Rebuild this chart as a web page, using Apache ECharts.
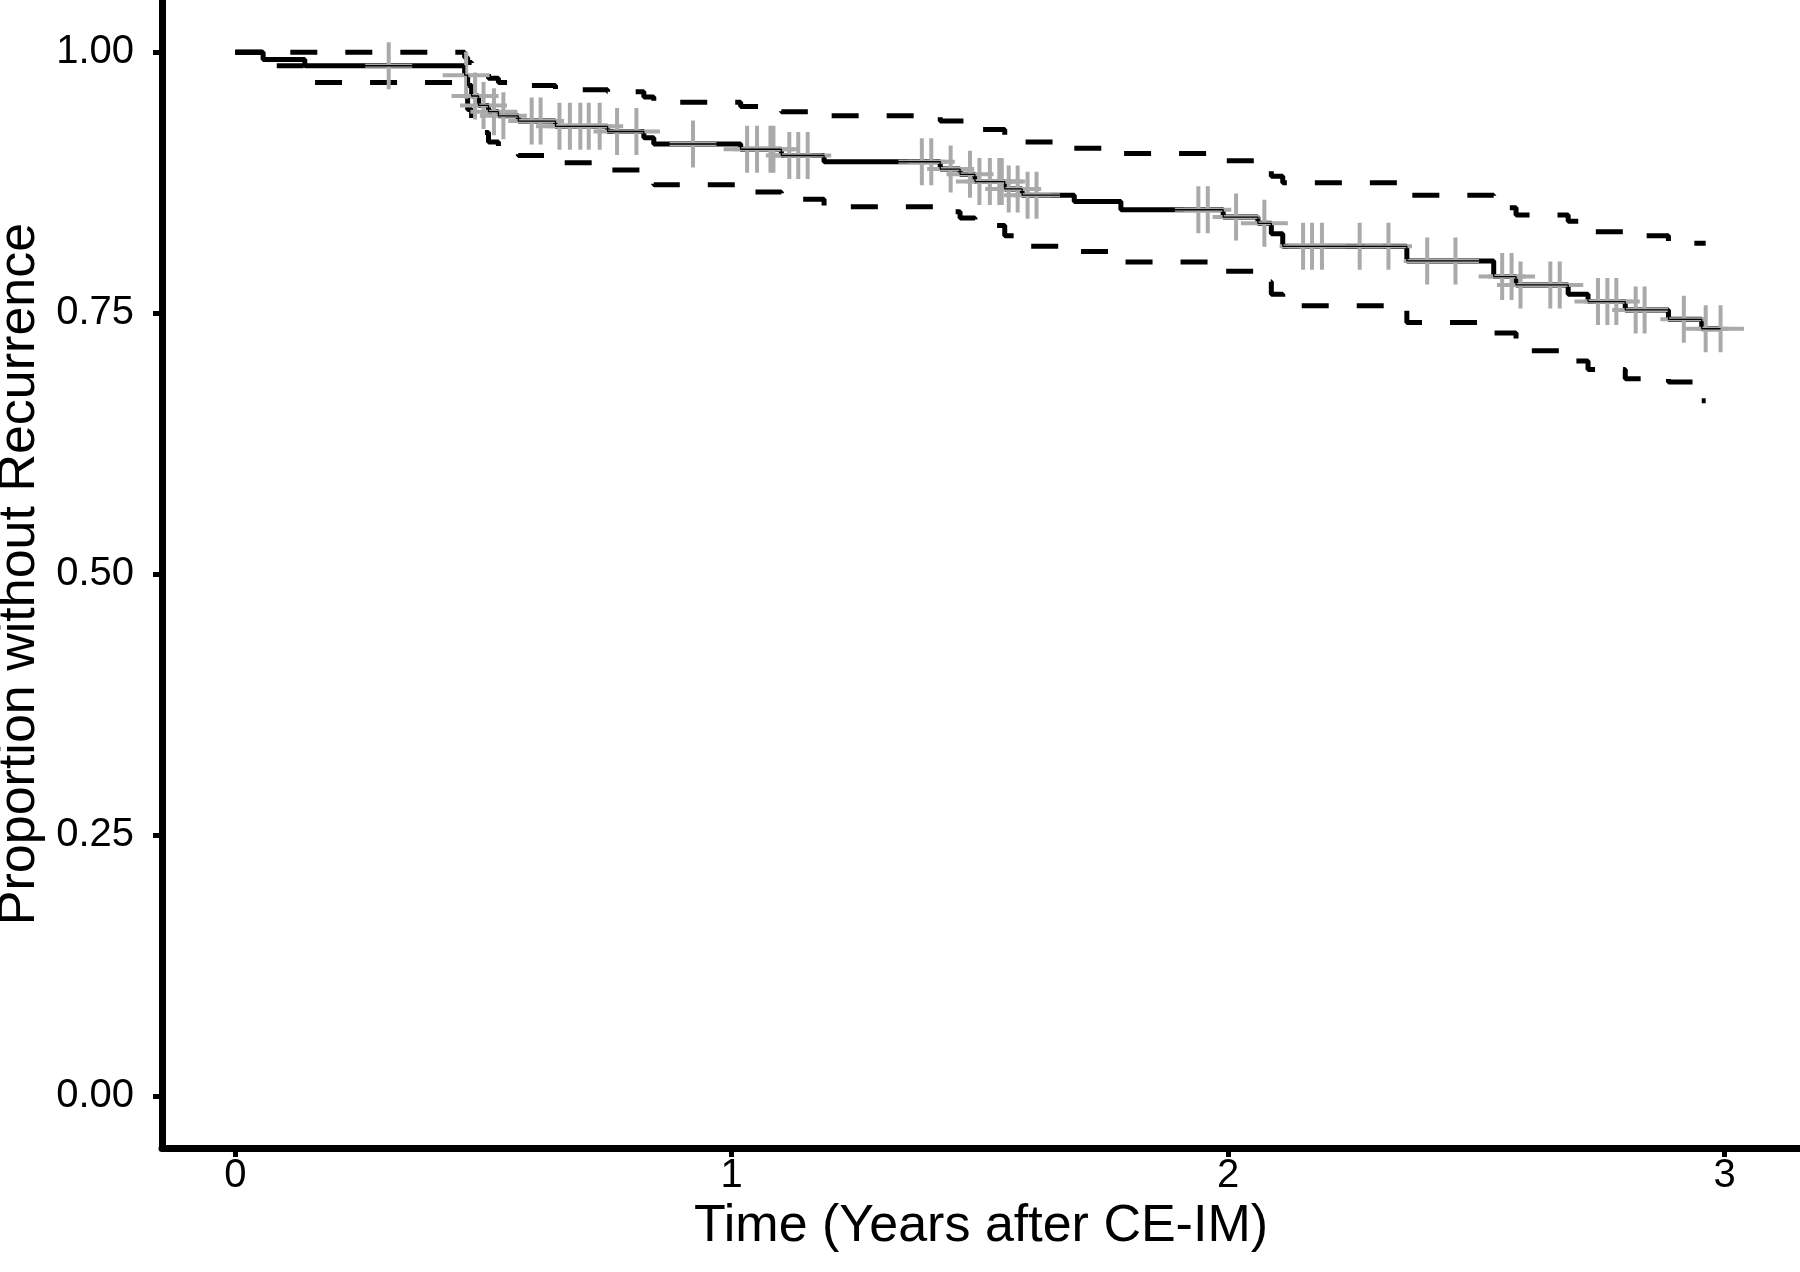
<!DOCTYPE html>
<html>
<head>
<meta charset="utf-8">
<script src="https://cdn.jsdelivr.net/npm/echarts@6/dist/echarts.min.js"></script>
<style>html,body{margin:0;padding:0;background:#fff}#c{width:1800px;height:1272px}</style>
</head>
<body>
<div id="c"></div>
<script>
// Kaplan-Meier estimate (value holds from each time onward)
const kmTime = [0, 0.056, 0.14, 0.462, 0.468, 0.476, 0.49, 0.51, 0.53, 0.57, 0.645, 0.75, 0.823, 0.843, 1.018, 1.10, 1.186, 1.42, 1.46, 1.49, 1.55, 1.585, 1.69, 1.784, 1.99, 2.06, 2.087, 2.11, 2.36, 2.535, 2.58, 2.685, 2.725, 2.80, 2.887, 2.954, 2.992];
const kmSurv = [1.000, 0.993, 0.987, 0.978, 0.968, 0.958, 0.949, 0.943, 0.939, 0.934, 0.929, 0.924, 0.918, 0.912, 0.907, 0.901, 0.895, 0.888, 0.883, 0.876, 0.869, 0.863, 0.857, 0.849, 0.842, 0.836, 0.826, 0.814, 0.800, 0.785, 0.777, 0.768, 0.761, 0.753, 0.744, 0.735, 0.735];

// Upper confidence limit
const upperTime = [0, 0.462, 0.468, 0.476, 0.49, 0.51, 0.53, 0.57, 0.645, 0.75, 0.823, 0.843, 1.018, 1.10, 1.186, 1.42, 1.49, 1.55, 1.585, 1.69, 1.784, 1.99, 2.06, 2.087, 2.11, 2.36, 2.535, 2.58, 2.685, 2.725, 2.80, 2.887, 2.962];
const upperSurv = [1.000, 0.995, 0.990, 0.985, 0.980, 0.975, 0.971, 0.968, 0.964, 0.962, 0.957, 0.952, 0.948, 0.943, 0.939, 0.934, 0.926, 0.920, 0.914, 0.908, 0.903, 0.896, 0.889, 0.881, 0.875, 0.863, 0.851, 0.844, 0.838, 0.828, 0.824, 0.817, 0.817];

// Lower confidence limit
const lowerTime = [0, 0.056, 0.14, 0.462, 0.468, 0.476, 0.49, 0.51, 0.53, 0.57, 0.645, 0.75, 0.823, 0.843, 1.018, 1.10, 1.186, 1.42, 1.46, 1.49, 1.55, 1.585, 1.69, 1.784, 1.99, 2.06, 2.087, 2.11, 2.36, 2.535, 2.58, 2.685, 2.725, 2.80, 2.887, 2.954, 2.962];
const lowerSurv = [1.000, 0.987, 0.971, 0.958, 0.945, 0.935, 0.923, 0.914, 0.906, 0.901, 0.894, 0.887, 0.880, 0.873, 0.866, 0.859, 0.852, 0.847, 0.841, 0.834, 0.824, 0.814, 0.809, 0.799, 0.790, 0.780, 0.768, 0.757, 0.741, 0.731, 0.714, 0.704, 0.696, 0.687, 0.684, 0.666, 0.666];

// Censoring times
const censorTime = [0.309, 0.465, 0.483, 0.500, 0.521, 0.540, 0.597, 0.615, 0.653, 0.674, 0.695, 0.712, 0.734, 0.769, 0.808, 0.922, 1.031, 1.051, 1.078, 1.084, 1.116, 1.134, 1.153, 1.383, 1.402, 1.441, 1.480, 1.499, 1.520, 1.539, 1.544, 1.558, 1.576, 1.596, 1.614, 1.940, 1.959, 2.016, 2.073, 2.151, 2.169, 2.189, 2.265, 2.323, 2.401, 2.458, 2.552, 2.571, 2.589, 2.649, 2.668, 2.745, 2.764, 2.782, 2.821, 2.839, 2.918, 2.962, 2.992];

const xTicks = [0, 1, 2, 3];
const yTicks = [0, 0.25, 0.5, 0.75, 1];
const xTitle = 'Time (Years after CE-IM)';
const yTitle = 'Proportion without Recurrence';

function pairs(t, s) { return t.map((v, i) => [v, s[i]]); }
function survAt(t) {
  let v = kmSurv[0];
  for (let i = 0; i < kmTime.length; i++) { if (kmTime[i] <= t) v = kmSurv[i]; }
  return v;
}
const censorData = censorTime.map(t => [t, survAt(t)]);

const FONT = '"Liberation Sans", Arial, Helvetica, sans-serif';
const plusPath = 'path://M-1,-0.085L1,-0.085L1,0.085L-1,0.085Z M-0.085,-1L0.085,-1L0.085,1L-0.085,1Z';

const chart = echarts.init(document.getElementById('c'), null, { renderer: 'canvas' });
chart.setOption({
  animation: false,
  backgroundColor: '#ffffff',
  grid: { left: 162, right: 0, top: 0, bottom: 124, containLabel: false, outerBoundsMode: 'none' },
  xAxis: {
    type: 'value', min: -0.1477, max: 3.152,
    axisLine: { show: true, onZero: false, lineStyle: { color: '#000', width: 7 } },
    axisTick: { show: true, length: 9, lineStyle: { color: '#000', width: 5 }, customValues: xTicks },
    axisLabel: { show: true, margin: 8, fontSize: 40, lineHeight: 40, color: '#000', fontFamily: FONT, customValues: xTicks, formatter: v => String(v) },
    splitLine: { show: false },
    name: xTitle, nameLocation: 'middle', nameGap: 38,
    nameTextStyle: { fontSize: 52, lineHeight: 52, color: '#000', fontFamily: FONT }
  },
  yAxis: {
    type: 'value', min: -0.05, max: 1.05,
    axisLine: { show: true, onZero: false, lineStyle: { color: '#000', width: 7 } },
    axisTick: { show: true, length: 9, lineStyle: { color: '#000', width: 5 }, customValues: yTicks },
    axisLabel: { show: true, margin: 28, fontSize: 40, lineHeight: 40, color: '#000', fontFamily: FONT, customValues: yTicks, formatter: v => v.toFixed(2) },
    splitLine: { show: false },
    name: yTitle, nameLocation: 'middle', nameGap: 113, nameRotate: 90,
    nameTextStyle: { fontSize: 52, lineHeight: 52, color: '#000', fontFamily: FONT }
  },
  series: [
    { name: 'upper', type: 'line', step: 'end', data: pairs(upperTime, upperSurv), showSymbol: false, z: 2,
      lineStyle: { color: '#000', width: 5, type: [27, 28] } },
    { name: 'lower', type: 'line', step: 'end', data: pairs(lowerTime, lowerSurv), showSymbol: false, z: 2,
      lineStyle: { color: '#000', width: 5, type: [27, 28] } },
    { name: 'km', type: 'line', step: 'end', data: pairs(kmTime, kmSurv), showSymbol: false, z: 3,
      lineStyle: { color: '#000', width: 5 } },
    { name: 'censor', type: 'scatter', data: censorData, symbol: plusPath, symbolSize: 47, z: 4,
      itemStyle: { color: '#aaaaaa', opacity: 1 } },
    { name: 'kmThin', type: 'line', step: 'end', data: pairs(kmTime, kmSurv), showSymbol: false, z: 5,
      lineStyle: { color: '#000', width: 1.3 } }
  ]
});
</script>
</body>
</html>
